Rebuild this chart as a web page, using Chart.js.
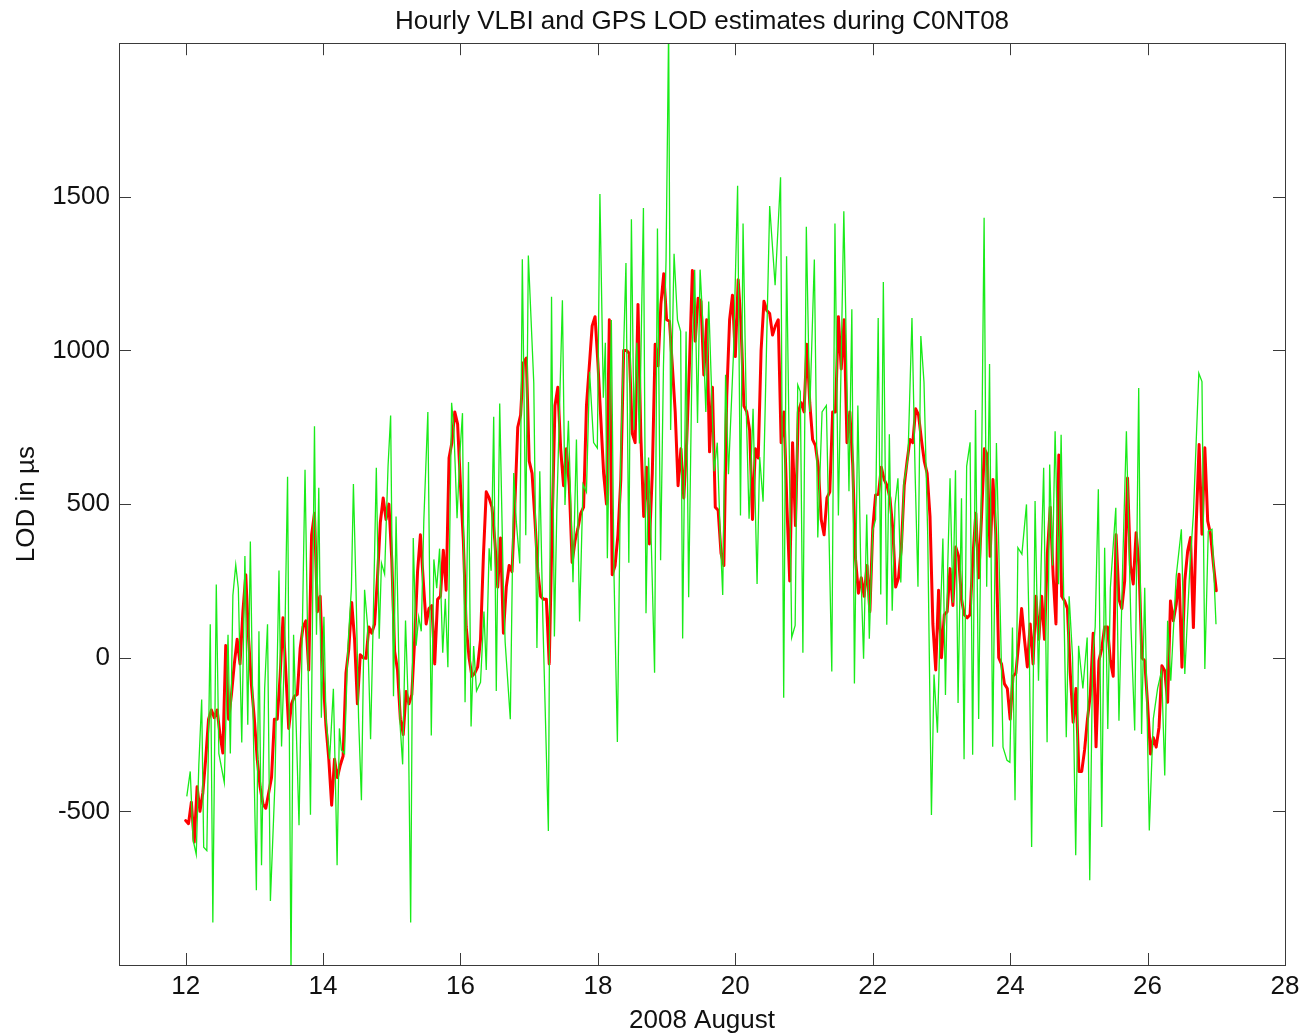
<!DOCTYPE html>
<html>
<head>
<meta charset="utf-8">
<title>Hourly VLBI and GPS LOD estimates during C0NT08</title>
<script src="https://cdn.jsdelivr.net/npm/chart.js@4.4.1/dist/chart.umd.min.js"></script>
<style>
  html, body { margin: 0; padding: 0; background: #fff; }
  #wrap { width: 1301px; height: 1033px; }
</style>
</head>
<body>
<div id="wrap"><canvas id="lod-chart" width="1301" height="1033"></canvas></div>
<script>
// days of August 2008, series start at 12.0 (hour 0)
var startDay = 12;
var xTicks = [12, 14, 16, 18, 20, 22, 24, 26, 28];
var yTicks = [-500, 0, 500, 1000, 1500];

// VLBI hourly LOD (green), hour offset from Aug 12 0h, value in microseconds
var vlbiHour = [0.4,1.6,2.6,3.7,4.6,5.6,6.3,7.4,8.6,9.5,10.7,11.6,13.5,14.8,15.6,16.5,17.5,18.4,19.6,20.7,
  21.7,22.6,23.3,24.7,25.6,26.5,27.6,28.6,29.6,31.2,32.6,33.5,34.6,35.6,36.8,37.7,39.6,41.7,42.6,43.6,
  45.0,45.7,46.5,47.4,48.3,49.0,50.3,51.6,52.3,52.9,53.7,54.4,55.5,56.7,57.9,58.6,59.5,60.4,61.4,62.5,
  63.5,64.6,65.6,66.6,67.6,68.4,69.5,70.7,71.6,72.6,73.5,74.2,74.9,75.8,76.8,77.7,78.6,79.5,80.5,81.4,
  82.3,83.2,84.6,85.8,86.7,87.7,88.7,89.8,90.7,91.6,92.2,92.9,93.7,94.8,95.7,96.7,97.6,98.8,99.7,100.6,
  101.6,103.0,104.2,105.0,106.0,106.7,107.6,108.5,109.7,110.9,111.6,113.4,114.6,115.5,116.7,117.6,118.8,119.7,121.6,122.7,
  123.7,124.8,126.7,127.8,128.8,129.7,131.6,132.5,133.7,135.3,136.5,137.6,138.8,140.0,141.1,142.5,143.8,144.7,145.9,146.6,
  147.3,148.7,149.6,150.8,152.0,153.8,154.8,155.7,156.6,157.6,158.5,159.9,160.8,161.7,162.7,163.8,164.8,165.9,166.9,167.8,
  168.7,169.4,170.6,171.8,172.9,173.6,174.8,175.7,176.9,177.8,178.8,179.7,180.6,181.7,182.7,183.6,184.6,185.7,186.7,187.6,
  188.6,189.6,191.4,192.8,193.8,194.7,195.9,196.8,198.2,199.6,200.5,201.7,204.0,205.9,207.8,208.9,209.9,210.8,211.7,212.9,
  213.8,214.7,215.6,216.8,218.0,219.6,220.8,222.3,223.8,225.7,226.8,228.0,229.9,231.7,232.7,233.6,234.8,235.8,236.8,237.9,
  238.8,240.0,241.0,241.9,242.8,243.7,244.9,245.8,246.8,247.8,248.8,249.8,250.9,252.3,253.7,254.8,255.8,256.8,257.9,259.2,
  260.5,261.4,262.6,263.5,264.5,265.4,266.2,267.0,268.0,268.9,269.8,271.0,271.9,272.8,274.0,274.9,275.9,277.0,278.0,278.9,
  279.8,280.8,281.9,283.2,284.8,285.5,286.9,287.9,288.8,289.7,290.7,292.1,293.7,294.6,295.5,296.7,297.9,298.8,299.7,300.9,
  301.8,302.8,303.7,304.9,305.8,306.7,307.6,308.6,309.8,310.9,311.9,313.4,314.9,315.8,316.8,317.7,318.8,320.0,321.0,322.1,
  323.0,324.9,326.0,327.3,328.6,330.2,331.5,332.9,333.9,335.0,336.6,338.0,339.5,340.9,342.0,343.0,344.1,346.0,347.8,349.0,
  350.8,352.0,353.9,355.0,356.0,357.2,358.5,359.9];
var vlbiLod = [-451,-370,-593,-640,-350,-136,-617,-628,109,-862,238,-312,-406,75,-312,203,302,226,-276,331,
  -218,378,-67,-757,86,-675,-100,109,-792,-406,284,-289,39,589,-1030,75,-545,612,75,-511,
  753,75,553,-195,133,-195,-330,-101,-393,-675,-230,-300,-312,40,226,565,226,-195,-464,221,
  109,-265,156,618,62,308,272,624,788,-125,460,121,-218,-347,121,-136,-862,390,39,133,
  86,448,800,-253,320,226,355,16,192,-31,367,830,741,454,650,796,-145,637,-224,38,
  -108,-80,150,-40,356,283,784,-108,827,258,51,-200,601,442,307,1297,399,1309,894,32,
  607,112,-564,1175,69,500,1163,497,771,246,710,118,564,539,931,700,682,1509,846,1025,
  324,1099,279,-274,667,1285,309,1427,741,1025,697,1464,145,652,354,-49,1397,317,950,1293,
  2050,741,1315,1099,1062,63,1062,197,980,1263,764,1263,1099,800,1159,900,607,700,400,204,
  921,597,1000,1536,463,1413,776,452,810,240,653,508,1470,1212,1564,-130,1307,700,66,105,
  888,866,16,1403,800,1296,391,800,821,-45,1413,463,1453,542,1134,-84,821,300,-3,466,
  62,414,450,1106,206,1223,107,727,153,500,584,245,571,650,1106,600,231,1047,897,400,
  -512,-55,-244,88,388,-121,300,584,179,610,-147,519,-330,623,701,-316,806,-199,600,1432,
  231,956,-290,699,39,-291,-334,-340,98,-464,358,337,499,100,-616,510,-75,300,618,-275,
  629,300,737,239,726,200,-259,200,0,-643,39,-100,66,-724,0,100,548,-551,358,-232,
  228,488,-205,300,737,100,-237,878,-248,228,-562,-199,-100,-42,-383,120,-75,266,418,-53,
  300,467,926,899,-37,412,418,109];

// GPS hourly LOD (red), one value per hour from Aug 12 0h to Aug 27 0h
var gpsLod = [-530,-540,-470,-600,-420,-500,-440,-330,-200,-170,-195,-170,-250,-310,40,-200,-120,-20,60,-20,
  150,270,60,-90,-200,-330,-420,-476,-490,-440,-390,-200,-200,-60,130,-50,-230,-150,-125,-119,
  30,100,120,-40,400,470,150,200,-60,-220,-330,-480,-330,-390,-350,-320,-50,30,180,60,
  -150,10,0,-2,100,80,110,260,440,520,450,500,320,20,-40,-200,-250,-110,-150,-120,
  60,280,400,250,110,160,170,-20,190,200,350,220,650,700,800,760,560,380,100,0,
  -60,-50,-30,60,330,540,520,490,380,230,390,80,230,300,280,500,750,790,960,975,
  640,600,450,280,200,190,190,-20,420,820,880,680,560,680,560,310,380,420,470,490,
  820,950,1080,1110,960,780,600,500,1100,270,300,400,580,1000,1000,990,730,700,1150,720,
  460,620,370,600,1020,950,1150,1250,1100,1095,950,800,560,680,520,700,960,1260,1030,1170,
  1160,920,1100,670,880,490,480,340,300,850,1100,1180,980,1230,1080,820,800,740,450,680,
  650,1000,1160,1130,1120,1050,1080,1100,700,800,500,250,700,430,800,830,800,1020,830,710,
  690,620,450,400,520,540,800,800,1110,940,1100,700,800,630,320,210,260,200,300,150,
  420,530,532,620,580,560,520,420,230,260,360,560,640,710,700,810,790,710,640,600,
  460,110,-40,220,0,140,150,290,170,360,330,190,140,130,140,330,470,260,460,680,
  660,330,580,400,0,-21,-85,-100,-200,-60,-50,50,160,60,-30,110,-20,200,60,200,
  60,340,490,270,110,660,200,185,160,-50,-210,-100,-370,-370,-300,-200,-120,80,-290,-10,
  30,100,100,-10,-60,400,190,160,250,585,300,240,407,300,0,-10,-150,-313,-260,-291,
  -226,-26,-42,-145,185,120,174,272,-31,250,347,391,98,434,694,402,683,445,402,304,
  218];

var fontFamily = "'Liberation Sans', Arial, Helvetica, sans-serif";
var textColor = '#111111';
var frameColor = '#3a3a3a';

var vlbiPoints = vlbiHour.map(function (h, i) {
    return {x: startDay + h / 24, y: vlbiLod[i]};
});
var gpsPoints = gpsLod.map(function (v, i) {
    return {x: startDay + i / 24, y: v};
});

// box round the axes with inward tick marks on all four sides
var axesBox = {
    id: 'axesBox',
    afterDraw: function (chart) {
        var ctx = chart.ctx;
        var area = chart.chartArea;
        var xs = chart.scales.x;
        var ys = chart.scales.y;
        var tickLen = 12;
        ctx.save();
        ctx.strokeStyle = frameColor;
        ctx.lineWidth = 1;
        ctx.beginPath();
        xTicks.forEach(function (t) {
            var px = Math.round(xs.getPixelForValue(t)) + 0.5;
            ctx.moveTo(px, area.bottom);
            ctx.lineTo(px, area.bottom - tickLen);
            ctx.moveTo(px, area.top);
            ctx.lineTo(px, area.top + tickLen);
        });
        yTicks.forEach(function (t) {
            var py = Math.round(ys.getPixelForValue(t)) + 0.5;
            ctx.moveTo(area.left, py);
            ctx.lineTo(area.left + tickLen, py);
            ctx.moveTo(area.right, py);
            ctx.lineTo(area.right - tickLen, py);
        });
        ctx.stroke();
        ctx.strokeRect(Math.round(area.left) + 0.5, Math.round(area.top) + 0.5,
                Math.round(area.right - area.left), Math.round(area.bottom - area.top));
        ctx.restore();
    }
};

var config = {
    type: 'line',
    data: {
        datasets: [
            {
                label: 'VLBI',
                data: vlbiPoints,
                borderColor: 'rgb(25,235,25)',
                borderWidth: 1.3,
                pointRadius: 0,
                tension: 0
            }, {
                label: 'GPS',
                data: gpsPoints,
                borderColor: 'rgb(255,0,0)',
                borderWidth: 3,
                borderJoinStyle: 'round',
                borderCapStyle: 'round',
                pointRadius: 0,
                tension: 0
            }]
    },
    options: {
        responsive: false,
        animation: false,
        layout: {
            padding: {left: 0, right: 16, top: 0, bottom: 0}
        },
        plugins: {
            legend: {display: false},
            tooltip: {enabled: false},
            title: {
                display: true,
                fullSize: false,
                text: 'Hourly VLBI and GPS LOD estimates during C0NT08',
                color: textColor,
                font: {family: fontFamily, size: 26, weight: 'normal'},
                padding: {top: 6, bottom: 6}
            }
        },
        scales: {
            x: {
                type: 'linear',
                min: 11.03,
                max: 28,
                afterBuildTicks: function (scale) {
                    scale.ticks = xTicks.map(function (v) { return {value: v}; });
                },
                afterFit: function (scale) {
                    scale.height = 68;
                    scale.paddingLeft = 0;
                    scale.paddingRight = 0;
                },
                grid: {display: false, drawTicks: false},
                border: {display: false},
                ticks: {
                    color: textColor,
                    font: {family: fontFamily, size: 26},
                    padding: 6,
                    maxRotation: 0,
                    callback: function (v) { return String(v); }
                },
                title: {
                    display: true,
                    text: '2008 August',
                    color: textColor,
                    font: {family: fontFamily, size: 26},
                    padding: {top: 0, bottom: -3}
                }
            },
            y: {
                min: -1000,
                max: 2000,
                afterBuildTicks: function (scale) {
                    scale.ticks = yTicks.map(function (v) { return {value: v}; });
                },
                afterFit: function (scale) {
                    scale.width = 119;
                    scale.paddingTop = 0;
                    scale.paddingBottom = 0;
                },
                grid: {display: false, drawTicks: false},
                border: {display: false},
                ticks: {
                    color: textColor,
                    font: {family: fontFamily, size: 26},
                    padding: 9,
                    callback: function (v) { return String(v); }
                },
                title: {
                    display: true,
                    text: 'LOD in µs',
                    color: textColor,
                    font: {family: fontFamily, size: 26},
                    padding: {top: 11, bottom: 0}
                }
            }
        }
    },
    plugins: [axesBox]
};

var lodChart = new Chart(document.getElementById('lod-chart').getContext('2d'), config);
</script>
</body>
</html>
